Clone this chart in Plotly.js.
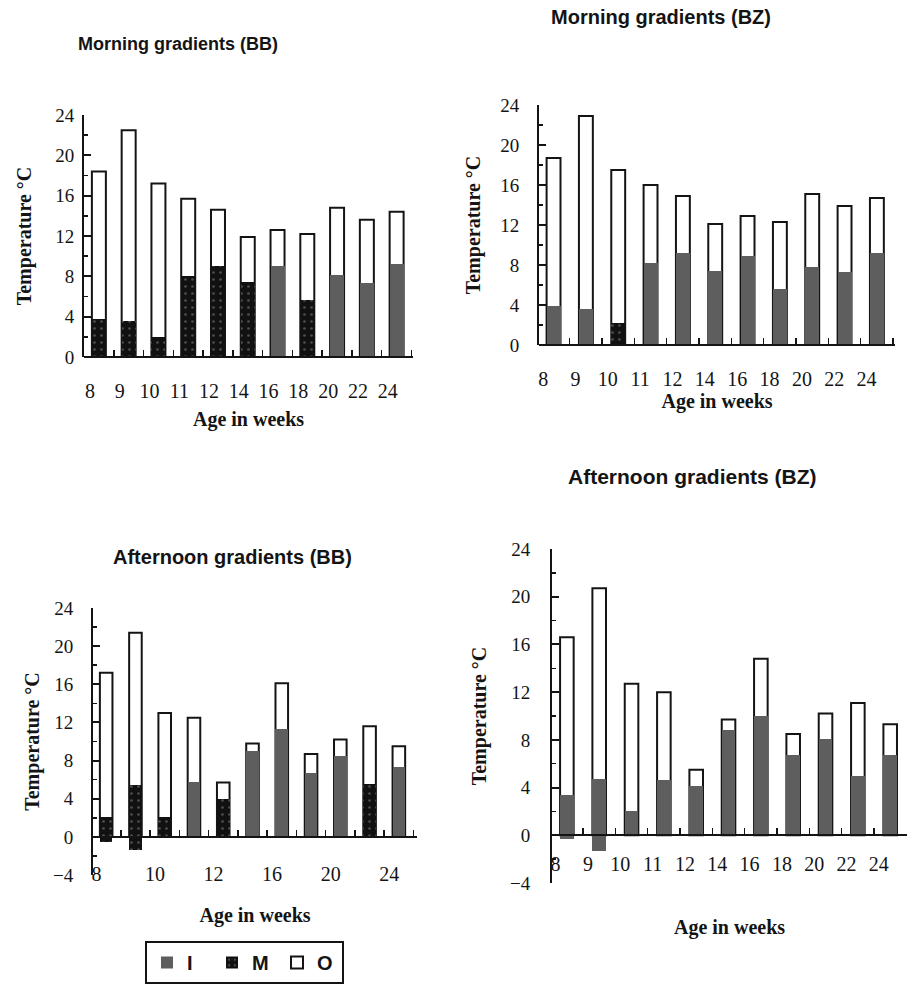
<!DOCTYPE html>
<html><head><meta charset="utf-8">
<script src="https://cdn.plot.ly/plotly-3.0.1.min.js"></script>
<style>html,body{margin:0;padding:0;background:#fff}</style>
</head><body><div id="chart" style="width:907px;height:988px"></div>
<script>
// ---- data (temperatures, °C) ----
const weeks = ['8','9','10','11','12','14','16','18','20','22','24'];

// Morning gradients (BB)
const mbbO = [18.4, 22.5, 17.2, 15.7, 14.6, 11.9, 12.6, 12.2, 14.8, 13.6, 14.4];
const mbbI = [null, null, null, null, null, null, 9.0, null, 8.1, 7.3, 9.2];
const mbbM = [3.8, 3.6, 2.0, 8.0, 9.0, 7.4, null, 5.7, null, null, null];

// Morning gradients (BZ)
const mbzO = [18.7, 22.9, 17.5, 16.0, 14.9, 12.1, 12.9, 12.3, 15.1, 13.9, 14.7];
const mbzI = [3.9, 3.6, null, 8.2, 9.2, 7.4, 8.9, 5.6, 7.8, 7.3, 9.2];
const mbzM = [null, null, 2.2, null, null, null, null, null, null, null, null];

// Afternoon gradients (BB)
const abbO = [17.2, 21.4, 13.0, 12.5, 5.7, 9.8, 16.1, 8.7, 10.2, 11.6, 9.5];
const abbI = [null, null, null, 5.8, null, 9.0, 11.3, 6.7, 8.5, null, 7.3];
const abbM = [2.1, 5.4, 2.1, null, 4.0, null, null, null, null, 5.5, null];
const abbMLow = [-0.5, -1.4, 0, 0, 0, 0, 0, 0, 0, 0, 0];

// Afternoon gradients (BZ)
const abzO = [16.6, 20.7, 12.7, 12.0, 5.5, 9.7, 14.8, 8.5, 10.2, 11.1, 9.3];
const abzI = [3.4, 4.7, 2.0, 4.6, 4.1, 8.8, 10.0, 6.7, 8.1, 5.0, 6.7];
const abzILow = [-0.3, -1.3, 0, 0, 0, 0, 0, 0, 0, 0, 0];
const abzM = [null, null, null, null, null, null, null, null, null, null, null];

const titles = ['Morning gradients (BB)', 'Morning gradients (BZ)', 'Afternoon gradients (BB)', 'Afternoon gradients (BZ)'];
const yTitle = 'Temperature °C';
const xTitle = 'Age in weeks';

// ---- layout geometry (pixels) ----
const W = 907, H = 988;
const fx = v => v / W, fy = v => 1 - v / H;
const zeros = weeks.map(() => 0);

const panels = [
  {O: mbbO, I: mbbI, M: mbbM, Ilow: zeros, Mlow: zeros,
   xd: [84, 413], yd: [115, 357], yr: [0, 24], xr: [-0.5, 10.55], bw: 0.47,
   labPos: 377, labOff: -0.3, every: 1, xStand: 10, yStand: 18, yTickStand: 4,
   title: [178, 44], tSize: 18},
  {O: mbzO, I: mbzI, M: mbzM, Ilow: zeros, Mlow: zeros,
   xd: [539, 895], yd: [105, 345], yr: [0, 24], xr: [-0.45, 10.56], bw: 0.43,
   labPos: 365, labOff: -0.32, every: 1, xStand: 3, yStand: 14, yTickStand: 14,
   title: [661, 17], tSize: 20},
  {O: abbO, I: abbI, M: abbM, Ilow: zeros, Mlow: abbMLow,
   xd: [93, 417], yd: [608, 875], yr: [-4, 24], xr: [-0.45, 10.62], bw: 0.43,
   labPos: 860, labOff: -0.33, every: 2, xStand: 23, yStand: 8, yTickStand: 14,
   title: [232, 557], tSize: 20},
  {O: abzO, I: abzI, M: abzM, Ilow: abzILow, Mlow: zeros,
   xd: [552, 907], yd: [549, 883], yr: [-4, 24], xr: [-0.46, 10.52], bw: 0.42,
   labPos: 850, labOff: -0.35, every: 1, xStand: 45, yStand: 18, yTickStand: 16,
   title: [692, 476], tSize: 21}
];

const serif = 'Liberation Serif, Times New Roman, serif';
const sans = 'Liberation Sans, Arial, sans-serif';
const ink = '#141414';

const traces = [];
const layout = {
  width: W, height: H,
  margin: {l: 0, r: 0, t: 0, b: 0},
  paper_bgcolor: '#fff', plot_bgcolor: 'rgba(0,0,0,0)',
  barmode: 'overlay', bargap: 0,
  showlegend: true,
  legend: {
    orientation: 'h', x: fx(145), y: fy(941), xanchor: 'left', yanchor: 'top',
    bordercolor: ink, borderwidth: 2, bgcolor: '#fff',
    font: {family: sans, size: 20, color: ink, weight: 'bold'},
    entrywidth: 20, itemwidth: 30, traceorder: 'normal'
  },
  annotations: [],
  font: {family: serif, color: ink}
};

panels.forEach((p, k) => {
  const n = k + 1;
  const xb = n === 1 ? 'x' : 'x' + (2 * n - 1);     // baseline (category) axis
  const xl = 'x' + (2 * n);                          // tick-label axis
  const yy = n === 1 ? 'y' : 'y' + n;
  const keyB = n === 1 ? 'xaxis' : 'xaxis' + (2 * n - 1);
  const keyL = 'xaxis' + (2 * n);
  const keyY = n === 1 ? 'yaxis' : 'yaxis' + n;
  const first = k === 0;

  traces.push({
    type: 'bar', name: 'O', x: weeks, y: p.O, xaxis: xb, yaxis: yy, width: p.bw,
    marker: {color: '#ffffff', line: {color: ink, width: 2}},
    legendgroup: 'O', showlegend: first, legendrank: 3, hoverinfo: 'y+name'
  });
  traces.push({
    type: 'bar', name: 'I', x: weeks,
    y: p.I.map((v, i) => v == null ? null : v - p.Ilow[i]), base: p.Ilow,
    xaxis: xb, yaxis: yy, width: p.bw,
    marker: {color: '#5e5e5e', line: {width: 0}},
    legendgroup: 'I', showlegend: first, legendrank: 1, hoverinfo: 'y+name'
  });
  traces.push({
    type: 'bar', name: 'M', x: weeks,
    y: p.M.map((v, i) => v == null ? null : v - p.Mlow[i]), base: p.Mlow,
    xaxis: xb, yaxis: yy, width: p.bw,
    marker: {color: '#111111', line: {width: 0},
      pattern: {shape: '.', fillmode: 'overlay', fgcolor: '#8a8a8a', size: 7, solidity: 0.12}},
    legendgroup: 'M', showlegend: first, legendrank: 2, hoverinfo: 'y+name'
  });

  const yDom = [fy(p.yd[1]), fy(p.yd[0])];
  const zeroPx = p.yd[1] - (0 - p.yr[0]) / (p.yr[1] - p.yr[0]) * (p.yd[1] - p.yd[0]);

  layout[keyY] = {
    domain: yDom, anchor: xb, range: p.yr, fixedrange: true,
    tickvals: [-4, 0, 4, 8, 12, 16, 20, 24].filter(v => v >= p.yr[0]),
    ticks: 'inside', ticklen: 7, tickwidth: 2, tickcolor: ink,
    minor: {dtick: 2, ticks: 'inside', ticklen: 4, tickwidth: 1.5, tickcolor: ink},
    showline: true, linecolor: ink, linewidth: 2,
    showgrid: false, zeroline: false,
    ticklabelstandoff: p.yTickStand,
    tickfont: {family: serif, size: 19, color: ink},
    title: {text: yTitle, standoff: p.yStand, font: {family: serif, size: 20, color: ink, weight: 'bold'}}
  };
  layout[keyB] = {
    domain: [fx(p.xd[0]), fx(p.xd[1])],
    type: 'category', categoryorder: 'array', categoryarray: weeks,
    range: p.xr, fixedrange: true,
    anchor: 'free', position: fy(zeroPx),
    showline: true, linecolor: ink, linewidth: 2,
    ticks: 'inside', tickson: 'boundaries', ticklen: 6, tickwidth: 1.5, tickcolor: ink,
    showticklabels: false, showgrid: false, zeroline: false
  };
  const idx = weeks.map((w, i) => i).filter(i => i % p.every === 0);
  layout[keyL] = {
    domain: [fx(p.xd[0]), fx(p.xd[1])],
    overlaying: xb, anchor: 'free', position: fy(p.labPos),
    type: 'linear', range: p.xr, fixedrange: true,
    tickvals: idx.map(i => i + p.labOff), ticktext: idx.map(i => weeks[i]),
    ticks: '', showline: false, showgrid: false, zeroline: false,
    tickfont: {family: serif, size: 20, color: ink},
    title: {text: xTitle, standoff: p.xStand, font: {family: serif, size: 20, color: ink, weight: 'bold'}}
  };
  // invisible helper trace so the label axis is drawn
  traces.push({type: 'scatter', x: [p.xr[0]], y: [p.yr[0]], xaxis: xl, yaxis: yy,
    mode: 'markers', marker: {opacity: 0}, showlegend: false, hoverinfo: 'skip'});

  layout.annotations.push({
    text: titles[k], xref: 'paper', yref: 'paper',
    x: fx(p.title[0]), y: fy(p.title[1]), xanchor: 'center', yanchor: 'middle',
    showarrow: false, font: {family: sans, size: p.tSize, color: ink, weight: 'bold'}
  });
});

Plotly.newPlot('chart', traces, layout, {displayModeBar: false, staticPlot: true});
</script></body></html>
